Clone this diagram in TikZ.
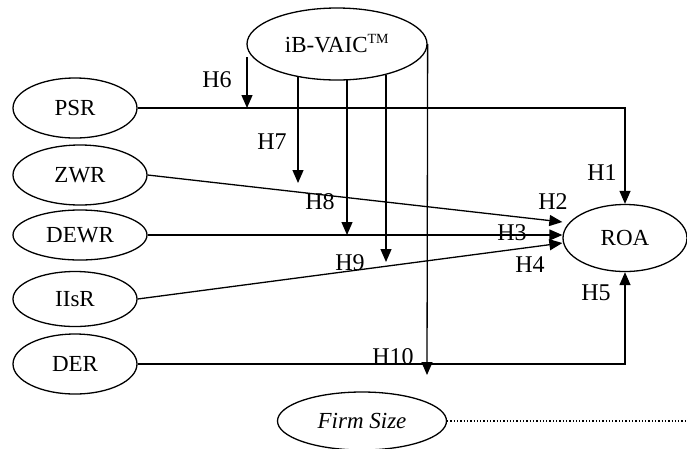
\documentclass[tikz,border=0pt]{standalone}
\usepackage{fontspec}
\setmainfont{Liberation Serif}
\usetikzlibrary{shapes.geometric,arrows.meta}
\begin{document}
\begin{tikzpicture}[x=1pt,y=-1pt,line width=1.3pt,
  var/.style={draw,ellipse,inner sep=0pt,font=\fontsize{23}{26}\selectfont},
  lbl/.style={font=\fontsize{24}{26}\selectfont},
  arr/.style={-{Triangle[length=13pt,width=11pt]}}]
\useasboundingbox (0,0) rectangle (687,448);
\node[var,minimum width=180,minimum height=72] (vaic) at (337,44) {iB-VAIC\textsuperscript{\fontsize{14}{16}\selectfont TM}};
\node[var,minimum width=124,minimum height=60] (psr) at (75,108) {PSR};
\node[var,minimum width=134,minimum height=60] (zwr) at (80,175) {ZWR};
\node[var,minimum width=134,minimum height=50] (dewr) at (80,235) {DEWR};
\node[var,minimum width=124,minimum height=55] (iisr) at (75,299) {IIsR};
\node[var,minimum width=124,minimum height=60] (der) at (75,364) {DER};
\node[var,minimum width=124,minimum height=67] (roa) at (625,238) {ROA};
\node[var,minimum width=169,minimum height=58] (firm) at (362,421) {\itshape Firm Size};
\coordinate (h6s) at (247,57);
\coordinate (h7s) at (298,77);
\coordinate (h7e) at (298,183);
\coordinate (h8s) at (347,80);
\coordinate (h9s) at (386,75);
\coordinate (h9e) at (386,262);
\coordinate (h10e) at (427,375);
\coordinate (dotend) at (687,421);
\draw[arr] (psr.east) -- (psr.east -| roa.north) -- (roa.north);
\draw[arr] (zwr.east) -- ([yshift=16pt]roa.west);
\draw[arr] (dewr.east) -- ([yshift=3pt]roa.west);
\draw[arr] (iisr.east) -- ([yshift=-5pt]roa.west);
\draw[arr] (der.east) -- (der.east -| roa.south) -- (roa.south);
\draw[arr] (h6s) -- (h6s |- psr.east);
\draw[arr] (h7s) -- (h7e);
\draw[arr] (h8s) -- (h8s |- dewr.east);
\draw[arr] (h9s) -- (h9e);
\draw[arr] (vaic.east) -- (h10e);
\draw[dotted] (firm.east) -- (dotend);
\node[lbl] (l1) at (602,173) {H1};
\node[lbl] (l2) at (553,202) {H2};
\node[lbl] (l3) at (512,233) {H3};
\node[lbl] (l4) at (530,265) {H4};
\node[lbl] (l5) at (596,293) {H5};
\node[lbl] (l6) at (217,80) {H6};
\node[lbl] (l7) at (272,142) {H7};
\node[lbl] (l8) at (320,202) {H8};
\node[lbl] (l9) at (350,263) {H9};
\node[lbl] (l10) at (393,357) {H10};
\end{tikzpicture}
\end{document}
